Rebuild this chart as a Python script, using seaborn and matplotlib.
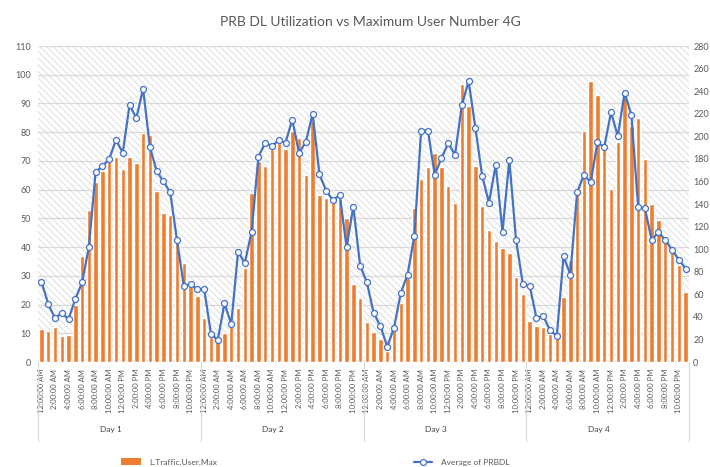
import numpy as np
import pandas as pd
import seaborn as sns
import matplotlib
matplotlib.use("Agg")
import matplotlib.pyplot as plt
from matplotlib.patches import Rectangle, Patch
from matplotlib.lines import Line2D
import matplotlib.transforms as mtransforms

# ---------------- data ----------------
days = ["Day 1", "Day 2", "Day 3", "Day 4"]
hour_labels = ["12:00:00 AM", "2:00:00 AM", "4:00:00 AM", "6:00:00 AM", "8:00:00 AM",
               "10:00:00 AM", "12:00:00 PM", "2:00:00 PM", "4:00:00 PM", "6:00:00 PM",
               "8:00:00 PM", "10:00:00 PM"]

user_max_day1 = [11.5, 10.7, 12.2, 9.0, 9.3, 20.0, 36.8, 52.8, 62.5, 66.6, 70.0, 71.3,
                 67.2, 71.3, 69.3, 79.7, 79.0, 59.4, 51.8, 51.2, 42.5, 34.5, 26.5, 23.0]
user_max_day2 = [15.4, 8.8, 7.0, 10.2, 12.9, 18.7, 32.7, 58.8, 70.0, 68.2, 74.0, 76.2,
                 74.1, 80.4, 77.9, 65.2, 84.0, 58.1, 57.2, 56.7, 56.7, 50.2, 27.1, 22.2]
user_max_day3 = [14.0, 10.3, 8.0, 4.0, 11.1, 20.4, 29.2, 53.7, 63.7, 68.0, 72.8, 68.0,
                 61.1, 55.3, 96.7, 89.0, 68.3, 54.3, 45.8, 42.0, 39.7, 38.0, 29.6, 23.6]
user_max_day4 = [14.3, 12.5, 12.1, 9.9, 9.0, 22.8, 35.6, 58.4, 80.4, 97.9, 93.1, 75.1,
                 60.2, 76.5, 92.3, 82.3, 85.0, 70.7, 54.9, 49.4, 44.0, 39.7, 33.9, 24.5]

prbdl_day1 = [71.3, 51.7, 38.7, 43.8, 37.9, 55.7, 70.5, 101.8, 168.7, 173.3, 179.9, 196.7,
              185.3, 227.8, 216.1, 242.0, 190.6, 169.0, 160.1, 150.2, 107.9, 67.4, 69.0, 64.6]
prbdl_day2 = [64.6, 25.2, 19.3, 51.9, 33.6, 97.5, 87.8, 115.3, 182.0, 193.9, 191.1, 196.7,
              194.4, 214.8, 185.0, 195.2, 219.9, 166.4, 151.7, 143.3, 148.1, 101.8, 137.7, 85.5]
prbdl_day3 = [70.5, 43.3, 31.8, 13.5, 30.5, 61.1, 77.4, 112.0, 205.1, 205.1, 165.9, 180.7,
              193.9, 183.7, 227.5, 248.9, 207.4, 164.9, 141.2, 174.8, 115.3, 179.2, 107.7, 69.0]
prbdl_day4 = [67.7, 39.2, 40.7, 28.2, 22.9, 93.7, 77.4, 150.2, 165.7, 159.1, 194.7, 190.4,
              221.4, 200.0, 238.7, 219.1, 137.4, 136.2, 107.9, 115.3, 107.9, 99.5, 90.6, 82.7]

left_ticks = list(range(0, 111, 10))
right_ticks = list(range(0, 281, 20))

title = "PRB DL Utilization vs Maximum User Number 4G"
bar_label = "L.Traffic.User.Max"
line_label = "Average of PRBDL"

# ---------------- build table ----------------
user_max = user_max_day1 + user_max_day2 + user_max_day3 + user_max_day4
prbdl = prbdl_day1 + prbdl_day2 + prbdl_day3 + prbdl_day4
n = len(user_max)
df = pd.DataFrame({"idx": np.arange(n), "users": user_max, "prbdl": prbdl})

# ---------------- style ----------------
sns.set_theme(style="white")
plt.rcParams["font.family"] = ["Lato", "DejaVu Sans"]
plt.rcParams["hatch.linewidth"] = 0.7

ORANGE = "#ED7D31"
BLUE = "#4472C4"
GRID = "#d9d9d9"
TXT = "#595959"

fig = plt.figure(figsize=(7.1, 4.67), dpi=100)
ax = fig.add_axes([38 / 710, 1 - 362 / 467, (689 - 38) / 710, (362 - 46) / 467])

# hatched plot-area background
ax.add_patch(Rectangle((0, 0), 1, 1, transform=ax.transAxes, facecolor="white",
                       edgecolor="#dedede", hatch="\\\\\\\\\\", lw=0, zorder=-2))

sns.barplot(data=df, x="idx", y="users", color=ORANGE, saturation=1, width=0.65,
            ax=ax, zorder=2)
ax.set_ylim(0, 110)
ax.set_yticks(left_ticks)
ax.set_axisbelow(True)
ax.yaxis.grid(True, color=GRID, lw=0.9)
ax.xaxis.grid(False)
for s in ax.spines.values():
    s.set_visible(False)
ax.tick_params(axis="y", length=0, pad=5, labelsize=6.5, labelcolor=TXT)

tick_pos = list(range(0, n, 2))
tick_lab = [hour_labels[(p % 24) // 2] for p in tick_pos]
ax.set_xticks(tick_pos)
ax.set_xticklabels(tick_lab, rotation=90, fontsize=5.5, color=TXT)
ax.tick_params(axis="x", length=0, pad=5)
ax.set_xlabel("")
ax.set_ylabel("")
ax.set_xlim(-0.5, n - 0.5)

# group separators and day labels
trans = mtransforms.blended_transform_factory(ax.transData, ax.transAxes)
for k in range(len(days) + 1):
    xpos = k * 24 - 0.5
    ax.plot([xpos, xpos], [0, -0.25], transform=trans, color=GRID, lw=0.9, clip_on=False)
for k, d in enumerate(days):
    ax.text(k * 24 + 11.5 - 1.3, -0.215, d, transform=trans, ha="center", va="center",
            fontsize=6, color="#404040")

# secondary axis line
ax2 = ax.twinx()
sns.lineplot(data=df, x="idx", y="prbdl", ax=ax2, color=BLUE, lw=1.6, marker="o",
             markersize=4.3, markerfacecolor="white", markeredgecolor=BLUE,
             markeredgewidth=0.9, zorder=5)
ax2.set_ylim(0, 280)
ax2.set_yticks(right_ticks)
ax2.set_ylabel("")
for s in ax2.spines.values():
    s.set_visible(False)
ax2.tick_params(axis="y", length=0, pad=3, labelsize=6.5, labelcolor=TXT)
ax2.grid(False)
ax.set_xlim(-0.5, n - 0.5)

fig.text(370 / 710, 1 - 22 / 467, title, ha="center", va="center", fontsize=10, color=TXT)

# legend
leg1 = fig.legend(handles=[Patch(facecolor=ORANGE, edgecolor="none", label=bar_label)],
                  loc="center left", bbox_to_anchor=(121 / 710, 5 / 467), frameon=False,
                  fontsize=6, handlelength=2.4, handleheight=0.8, handletextpad=1.0,
                  borderpad=0, borderaxespad=0)
for t in leg1.get_texts():
    t.set_color(TXT)
leg2 = fig.legend(handles=[Line2D([], [], color=BLUE, lw=1.6, marker="o", markersize=4.3,
                                  markerfacecolor="white", markeredgecolor=BLUE,
                                  markeredgewidth=0.9, label=line_label)],
                  loc="center left", bbox_to_anchor=(414 / 710, 5 / 467), frameon=False,
                  fontsize=6, handlelength=2.2, handletextpad=1.0,
                  borderpad=0, borderaxespad=0)
for t in leg2.get_texts():
    t.set_color(TXT)

fig.savefig("out.png", dpi=100, facecolor="white")
